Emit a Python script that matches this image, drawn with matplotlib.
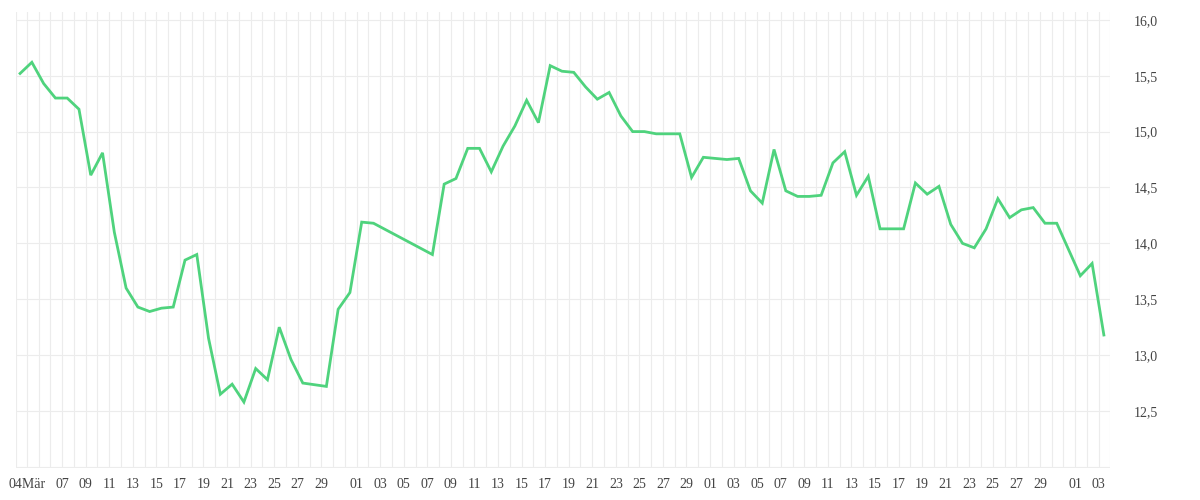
import numpy as np
import pandas as pd
import matplotlib
matplotlib.use("Agg")
import matplotlib.pyplot as plt
import matplotlib.dates as mdates

# daily values from 04 Mar to 04 Jun, nan = day without a value
start = "2020-03-04"
end = "2020-06-04"
values = [
    15.52, 15.62, 15.43, 15.30, 15.30, 15.20, 14.61, 14.81, 14.10, 13.60,
    13.43, 13.39, 13.42, 13.43, 13.85, 13.90, 13.15, 12.65, 12.74, 12.58,
    12.88, 12.78, 13.25, 12.96, 12.75, np.nan, 12.72, 13.41, 13.56, 14.19,
    14.18, np.nan, np.nan, np.nan, np.nan, 13.90, 14.53, 14.58, 14.85, 14.85,
    14.64, 14.87, 15.05, 15.28, 15.08, 15.59, 15.54, 15.53, 15.40, 15.29,
    15.35, 15.14, 15.00, 15.00, 14.98, 14.98, 14.98, 14.59, 14.77, 14.76,
    14.75, 14.76, 14.47, 14.36, 14.84, 14.47, 14.42, 14.42, 14.43, 14.72,
    14.82, 14.43, 14.60, 14.13, 14.13, 14.13, 14.54, 14.44, 14.51, 14.17,
    14.00, 13.96, 14.13, 14.40, 14.23, 14.30, 14.32, 14.18, 14.18, np.nan,
    13.71, 13.82, 13.18,
]

# x tick labels (german month name on the first one)
tick_dates = (["2020-03-04"]
              + ["2020-03-%02d" % d for d in range(7, 30, 2)]
              + ["2020-04-%02d" % d for d in range(1, 30, 2)]
              + ["2020-05-%02d" % d for d in range(1, 30, 2)]
              + ["2020-06-01", "2020-06-03"])
tick_labels = ["04Mär"] + [d[-2:] for d in tick_dates[1:]]

y_ticks = [12.5, 13.0, 13.5, 14.0, 14.5, 15.0, 15.5, 16.0]
y_labels = [("%.1f" % v).replace(".", ",") for v in y_ticks]

line_color = "#4fd37d"
grid_color = "#ececec"
text_color = "#444444"

dates = pd.date_range(start, end, freq="D")
vals = np.array(values)
ok = ~np.isnan(vals)
x = mdates.date2num(dates)

fig = plt.figure(figsize=(12, 5), dpi=100)
ax = fig.add_axes([0.0131, 0.064, 0.912, 0.912])

# day grid sits a bit after each data point
off = 0.57
for xv in x[:-1]:
    ax.axvline(xv + off, color=grid_color, lw=0.8, zorder=0)
ax.axvline(x[0] - 0.37, color=grid_color, lw=0.8, zorder=0)
ax.axvline(x[0] + 92.53, color=grid_color, lw=0.8, zorder=0)
for yv in [12.0] + y_ticks:
    ax.axhline(yv, color=grid_color, lw=0.8, zorder=0)

ax.plot(x[ok], vals[ok], color=line_color, lw=2.0, zorder=3,
        solid_joinstyle="miter")

ax.set_xlim(x[0] - 0.37, x[0] + 92.53)
ax.set_ylim(11.99, 16.07)

ax.set_xticks(mdates.date2num(pd.to_datetime(tick_dates)) + off)
ax.set_xticklabels(tick_labels)
ax.set_yticks(y_ticks)
ax.set_yticklabels(y_labels)
ax.yaxis.tick_right()
ax.tick_params(axis="both", length=0, labelsize=10, labelcolor=text_color)
ax.tick_params(axis="x", pad=7)
ax.tick_params(axis="y", pad=17)
for lab in ax.get_xticklabels() + ax.get_yticklabels():
    lab.set_family("Liberation Serif")

for s in ax.spines.values():
    s.set_visible(False)

fig.savefig("out.png", dpi=100)
